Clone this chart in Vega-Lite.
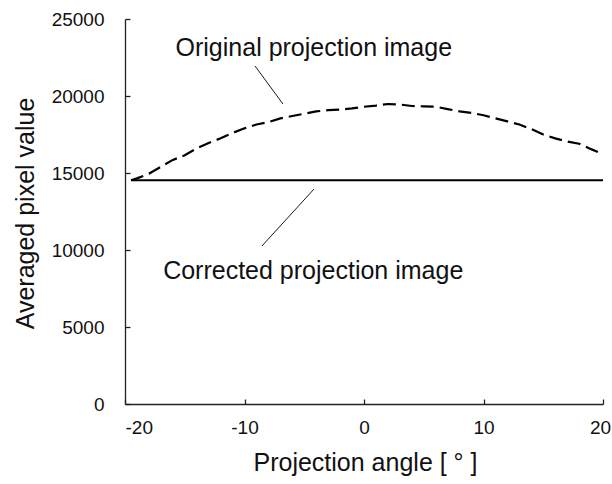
{
  "$schema": "https://vega.github.io/schema/vega-lite/v6.json",
  "autosize": {"type": "none"},
  "padding": {"left": 125, "top": 19, "right": 9, "bottom": 80},
  "width": 478,
  "height": 385,
  "background": "white",
  "config": {
    "view": {"stroke": null},
    "font": "Liberation Sans",
    "axis": {
      "grid": false,
      "domainColor": "#222222",
      "domainWidth": 1.3,
      "tickColor": "#222222",
      "tickWidth": 1.3,
      "tickSize": -5,
      "labelFont": "Liberation Sans",
      "labelFontSize": 19,
      "labelColor": "#111111",
      "titleFont": "Liberation Sans",
      "titleFontSize": 25,
      "titleFontWeight": "normal",
      "titleColor": "#111111"
    }
  },
  "datasets": {
    "original": [
      {"angle": -19.5, "value": 14530},
      {"angle": -19, "value": 14650},
      {"angle": -18, "value": 14950},
      {"angle": -17, "value": 15400},
      {"angle": -16, "value": 15850},
      {"angle": -15, "value": 16150},
      {"angle": -14, "value": 16600},
      {"angle": -13, "value": 16950},
      {"angle": -12, "value": 17250},
      {"angle": -11, "value": 17600},
      {"angle": -10, "value": 17900},
      {"angle": -9, "value": 18150},
      {"angle": -8, "value": 18300},
      {"angle": -7, "value": 18550},
      {"angle": -6, "value": 18700},
      {"angle": -5, "value": 18850},
      {"angle": -4, "value": 19000},
      {"angle": -3, "value": 19080},
      {"angle": -2, "value": 19120},
      {"angle": -1, "value": 19200},
      {"angle": 0, "value": 19300},
      {"angle": 1, "value": 19380},
      {"angle": 2, "value": 19480},
      {"angle": 3, "value": 19450},
      {"angle": 4, "value": 19350},
      {"angle": 5, "value": 19330},
      {"angle": 6, "value": 19300},
      {"angle": 7, "value": 19150},
      {"angle": 8, "value": 19000},
      {"angle": 9, "value": 18900},
      {"angle": 10, "value": 18750},
      {"angle": 11, "value": 18550},
      {"angle": 12, "value": 18350},
      {"angle": 13, "value": 18150},
      {"angle": 14, "value": 17850},
      {"angle": 15, "value": 17500},
      {"angle": 16, "value": 17250},
      {"angle": 17, "value": 17050},
      {"angle": 18, "value": 16900},
      {"angle": 19, "value": 16550},
      {"angle": 20, "value": 16230}
    ],
    "corrected": [
      {"angle": -19.5, "value": 14530},
      {"angle": 20, "value": 14530}
    ],
    "labels": [
      {"angle": -4.2, "value": 22600, "text": "Original projection image"},
      {"angle": -4.25, "value": 8120, "text": "Corrected projection image"}
    ],
    "leaders": [
      {"a1": -9.12, "v1": 21950, "a2": -6.78, "v2": 19480},
      {"a1": -4.18, "v1": 13960, "a2": -8.54, "v2": 10260}
    ]
  },
  "layer": [
    {
      "data": {"name": "original"},
      "mark": {"type": "line", "color": "black", "strokeWidth": 2.2, "strokeDash": [13, 6]},
      "encoding": {
        "x": {
          "field": "angle", "type": "quantitative",
          "scale": {"domain": [-20, 20], "nice": false, "zero": false},
          "axis": {
            "values": [-20, -10, 0, 10, 20],
            "labelExpr": "datum.value + ''",
            "title": "Projection angle [ ° ]",
            "labelPadding": 19,
            "labelAlign": {"condition": {"test": "datum.value == -20", "value": "left"}, "value": "center"},
            "labelOffset": {"condition": {"test": "datum.value == 20", "value": -3}, "value": 0},
            "titleX": 240,
            "titleY": 66,
            "titleBaseline": "alphabetic",
            "titleAlign": "center"
          }
        },
        "y": {
          "field": "value", "type": "quantitative",
          "scale": {"domain": [0, 25000], "nice": false},
          "axis": {
            "values": [0, 5000, 10000, 15000, 20000, 25000],
            "format": "d",
            "title": "Averaged pixel value",
            "labelPadding": 26,
            "titleX": -87,
            "titleY": 194,
            "titleAngle": -90,
            "titleAlign": "center",
            "titleBaseline": "bottom"
          }
        }
      }
    },
    {
      "data": {"name": "corrected"},
      "mark": {"type": "line", "color": "black", "strokeWidth": 2},
      "encoding": {
        "x": {"field": "angle", "type": "quantitative"},
        "y": {"field": "value", "type": "quantitative"}
      }
    },
    {
      "data": {"name": "leaders"},
      "mark": {"type": "rule", "color": "black", "strokeWidth": 0.9},
      "encoding": {
        "x": {"field": "a1", "type": "quantitative"},
        "y": {"field": "v1", "type": "quantitative"},
        "x2": {"field": "a2"},
        "y2": {"field": "v2"}
      }
    },
    {
      "data": {"name": "labels"},
      "mark": {"type": "text", "font": "Liberation Sans", "fontSize": 25, "color": "#111111", "align": "center", "baseline": "alphabetic"},
      "encoding": {
        "x": {"field": "angle", "type": "quantitative"},
        "y": {"field": "value", "type": "quantitative"},
        "text": {"field": "text"}
      }
    }
  ]
}
